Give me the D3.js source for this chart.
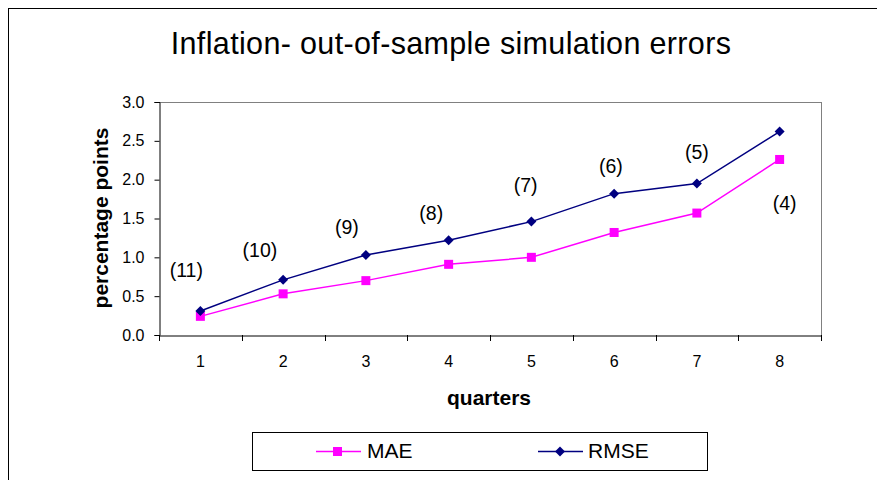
<!DOCTYPE html>
<html><head><meta charset="utf-8">
<script src="https://cdn.jsdelivr.net/npm/d3@7"></script>
<style>body{margin:0;background:#fff}svg{display:block}text{font-family:"Liberation Sans",Arial,sans-serif}</style>
</head><body>
<script>
const quarters = [1,2,3,4,5,6,7,8];
const mae  = [0.24,0.53,0.70,0.91,1.00,1.32,1.57,2.26];
const rmse = [0.31,0.71,1.03,1.22,1.46,1.82,1.95,2.62];
const yTicks = [0,0.5,1.0,1.5,2.0,2.5,3.0];
const annoText = ["(11)","(10)","(9)","(8)","(7)","(6)","(5)","(4)"];
const annoX = [0.83,1.72,2.77,3.79,4.93,5.96,7.0,8.06];
const annoY = [0.84,1.09,1.39,1.57,1.93,2.17,2.36,1.70];

const W=877,H=480;
const FF="'Liberation Sans',Arial,sans-serif";
const svg=d3.select("body").append("svg").attr("width",W).attr("height",H);
// outer frame
svg.append("line").attr("x1",8.5).attr("x2",8.5).attr("y1",9).attr("y2",H).attr("stroke","#000");
svg.append("line").attr("x1",8).attr("x2",W).attr("y1",8.5).attr("y2",8.5).attr("stroke","#000");

const L=159,R=821,T=102,B=335;
const x=d3.scaleBand().domain(quarters).range([L,R]);
const xc=q=>L+(q-0.5)*x.bandwidth();
const y=d3.scaleLinear().domain([0,3]).range([B,T]);

// plot area border (gray top/right)
svg.append("line").attr("x1",L).attr("x2",R+0.5).attr("y1",T+0.5).attr("y2",T+0.5).attr("stroke","#808080");
svg.append("line").attr("x1",R+0.5).attr("x2",R+0.5).attr("y1",T).attr("y2",B).attr("stroke","#808080");

// axes
const ya=svg.append("g").attr("transform",`translate(${L+0.5},0)`)
  .call(d3.axisLeft(y).tickValues(yTicks).tickFormat(d3.format(".1f")).tickSize(5).tickPadding(10));
ya.select(".domain").attr("stroke","#000");
ya.selectAll("text").attr("font-size",16).attr("fill","#000").style("font-family",FF);

const xa=svg.append("g").attr("transform",`translate(0,${B+0.5})`)
  .call(d3.axisBottom(x).tickSize(0).tickPadding(20));
xa.select(".domain").attr("stroke","#000");
xa.selectAll("text").attr("font-size",16).attr("fill","#000").style("font-family",FF);
// category boundary ticks
svg.append("g").selectAll("line").data(d3.range(quarters.length+1)).join("line")
  .attr("x1",i=>Math.round(L+i*x.bandwidth())+0.5).attr("x2",i=>Math.round(L+i*x.bandwidth())+0.5)
  .attr("y1",B).attr("y2",B+6).attr("stroke","#000");

// lines
const line=d3.line().x((d,i)=>xc(quarters[i])).y(d=>y(d));
svg.append("path").datum(mae).attr("d",line).attr("fill","none").attr("stroke","#FF00FF").attr("stroke-width",1.5);
svg.append("path").datum(rmse).attr("d",line).attr("fill","none").attr("stroke","#000080").attr("stroke-width",1.5);
svg.append("g").selectAll("rect").data(mae).join("rect")
  .attr("x",(d,i)=>xc(quarters[i])-4.5).attr("y",d=>y(d)-4.5).attr("width",9).attr("height",9).attr("fill","#FF00FF");
svg.append("g").selectAll("path").data(rmse).join("path")
  .attr("d",d3.symbol().type(d3.symbolSquare).size(50))
  .attr("transform",(d,i)=>`translate(${xc(quarters[i])},${y(d)}) rotate(45)`).attr("fill","#000080");

// annotations
svg.append("g").selectAll("text").data(annoText).join("text")
  .attr("x",(d,i)=>L+(annoX[i]-0.5)*x.bandwidth()).attr("y",(d,i)=>y(annoY[i])).attr("dy","0.35em")
  .attr("text-anchor","middle").attr("font-size",19.5).text(d=>d);

// title and axis titles
svg.append("text").attr("x",451).attr("y",54).attr("text-anchor","middle").attr("font-size",30.5).attr("letter-spacing",0.35).text("Inflation- out-of-sample simulation errors");
svg.append("text").attr("x",489).attr("y",405).attr("text-anchor","middle").attr("font-size",21).attr("font-weight","bold").text("quarters");
svg.append("text").attr("transform","translate(108,218) rotate(-90)").attr("text-anchor","middle").attr("font-size",21).attr("font-weight","bold").text("percentage points");

// legend
const lg=svg.append("g");
lg.append("rect").attr("x",252.5).attr("y",432.5).attr("width",455).attr("height",38).attr("fill","#fff").attr("stroke","#000");
lg.append("line").attr("x1",316).attr("x2",361).attr("y1",451.5).attr("y2",451.5).attr("stroke","#FF00FF").attr("stroke-width",1.5);
lg.append("rect").attr("x",333).attr("y",447).attr("width",9).attr("height",9).attr("fill","#FF00FF");
lg.append("text").attr("x",367).attr("y",457.5).attr("font-size",21).text("MAE");
lg.append("line").attr("x1",538).attr("x2",583).attr("y1",451.5).attr("y2",451.5).attr("stroke","#000080").attr("stroke-width",1.5);
lg.append("path").attr("d",d3.symbol().type(d3.symbolSquare).size(50)).attr("transform","translate(560,451.5) rotate(45)").attr("fill","#000080");
lg.append("text").attr("x",588).attr("y",457.5).attr("font-size",21).text("RMSE");
</script>
</body></html>
